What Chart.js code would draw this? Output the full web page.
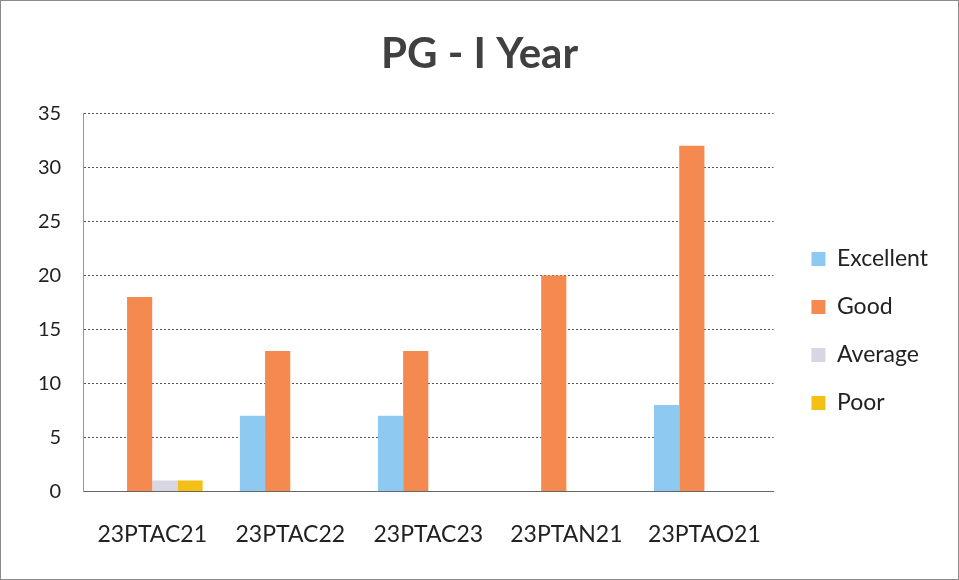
<!DOCTYPE html>
<html>
<head>
<meta charset="utf-8">
<script src="https://cdn.jsdelivr.net/npm/chart.js@4/dist/chart.umd.min.js"></script>
<style>
  body { margin: 0; background: #fff; }
  #wrap { width: 957px; height: 578px; border: 1px solid #8a8a8a; }
</style>
</head>
<body>
<div id="wrap"><canvas id="myChart" width="957" height="578"></canvas></div>
<script>
const labels = ['23PTAC21', '23PTAC22', '23PTAC23', '23PTAN21', '23PTAO21'];
const excellent = [0, 7, 7, 0, 8];
const good = [18, 13, 13, 20, 32];
const average = [1, 0, 0, 0, 0];
const poor = [1, 0, 0, 0, 0];

const font = "Lato, 'Open Sans', sans-serif";

// nudge the legend right/down and the title right, like the original sheet
const layoutNudge = {
    id: 'layoutNudge',
    afterLayout(chart) {
        const lg = chart.legend;
        lg.left += 13; lg.right += 13;
        lg.top += 46; lg.bottom += 46;
        const tb = chart.titleBlock;
        tb.left += 9; tb.right += 9;
    }
};

const ctx = document.getElementById('myChart').getContext('2d');
const chart = new Chart(ctx, {
    type: 'bar',
    data: {
        labels: labels,
        datasets: [
            { label: 'Excellent', data: excellent, backgroundColor: '#8ec9f1' },
            { label: 'Good', data: good, backgroundColor: '#f58a50' },
            { label: 'Average', data: average, backgroundColor: '#d8d6e2' },
            { label: 'Poor', data: poor, backgroundColor: '#f5c016' }
        ]
    },
    plugins: [layoutNudge],
    options: {
        animation: false,
        responsive: false,
        layout: { padding: { left: 15, right: 33, bottom: 10 } },
        datasets: {
            bar: { categoryPercentage: 0.73, barPercentage: 1.0 }
        },
        plugins: {
            title: {
                display: true,
                text: 'PG - I Year',
                color: '#404040',
                font: { family: font, size: 42, weight: 'bold' },
                padding: { top: 28, bottom: 34 }
            },
            legend: {
                position: 'right',
                labels: {
                    color: '#222',
                    font: { family: font, size: 23 },
                    boxWidth: 14,
                    boxHeight: 14,
                    padding: 25
                }
            },
            tooltip: { enabled: false }
        },
        scales: {
            x: {
                grid: { display: false },
                border: { color: '#666', dash: [3, 1] },
                ticks: { color: '#222', font: { family: font, size: 23 }, padding: 21 }
            },
            y: {
                min: 0,
                max: 35,
                ticks: { stepSize: 5, color: '#222', font: { family: font, size: 20 }, padding: 22 },
                grid: { color: '#555', lineWidth: 1, drawTicks: false },
                border: { color: '#999', dash: [2, 2] }
            }
        }
    }
});
</script>
</body>
</html>
